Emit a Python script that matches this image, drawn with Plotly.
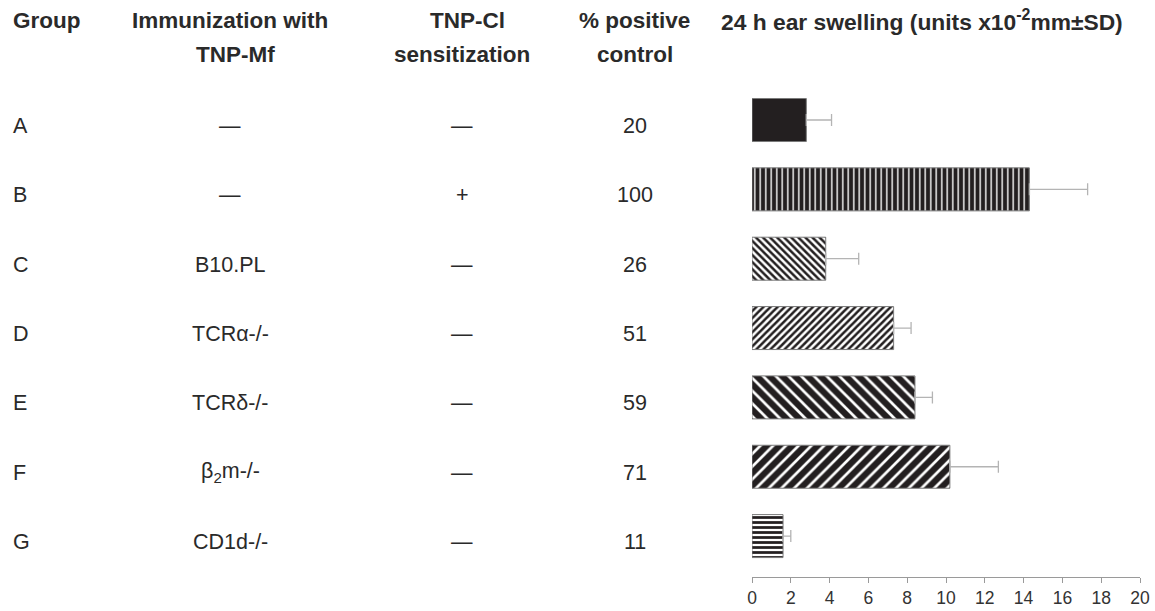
import plotly.graph_objects as go

groups = ["A", "B", "C", "D", "E", "F", "G"]
immunization = ["—", "—", "B10.PL", "TCRα-/-", "TCRδ-/-", "β<sub>2</sub>m-/-", "CD1d-/-"]
sensitization = ["—", "+", "—", "—", "—", "—", "—"]
pct_positive = [20, 100, 26, 51, 59, 71, 11]
swelling = [2.8, 14.3, 3.8, 7.3, 8.4, 10.2, 1.6]
swelling_sd = [1.3, 3.0, 1.7, 0.9, 0.9, 2.5, 0.4]
x_ticks = [0, 2, 4, 6, 8, 10, 12, 14, 16, 18, 20]

DARK = "#231f20"
# fill style per group: (shape, fg, bg, size, solidity)
styles = [
    ("", DARK, DARK, 6, 0.3),
    ("|", "white", DARK, 5.5, 0.25),
    ("\\", DARK, "white", 5, 0.5),
    ("/", DARK, "white", 5, 0.5),
    ("\\", "white", DARK, 9, 0.3),
    ("/", "white", DARK, 9, 0.3),
    ("-", DARK, "white", 5, 0.55),
]

# plot area in page pixels: x 752..1140, y 85..577
W, H = 1155, 611
L, T = 752, 85
R = W - 1140
B = H - 577
pw = W - L - R

def px(x):
    return (x - L) / pw

def ypaper(yp):
    return 1 - (yp - T) / (H - T - B)

FONT = "Liberation Sans, Arial, sans-serif"
TXT = "#2a2a2a"

fig = go.Figure()
for g, v, sd, (shp, fg, bg, sz, so) in zip(groups, swelling, swelling_sd, styles):
    marker = dict(color=bg, line=dict(color="#7a7a7a", width=1))
    if shp:
        marker["pattern"] = dict(shape=shp, fgcolor=fg, bgcolor=bg, size=sz,
                                 solidity=so, fillmode="replace")
    fig.add_trace(go.Bar(
        y=[g], x=[v], orientation="h", width=0.62, marker=marker,
        error_x=dict(type="data", array=[sd], arrayminus=[0], symmetric=False,
                     color="#b4b4b4", thickness=1.3, width=6),
        showlegend=False, name=g,
    ))

ann = []
def add(text, x, y, yref="paper", xanchor="center", size=21.5, bold=False, yshift=0):
    ann.append(dict(text=f"<b>{text}</b>" if bold else text, x=px(x), y=y, xref="paper",
                    yref=yref, xanchor=xanchor, yanchor="middle", showarrow=False,
                    yshift=yshift, font=dict(family=FONT, size=size, color=TXT)))

HS = 22.5
add("Group", 11, ypaper(20), xanchor="left", bold=True, size=HS)
add("Immunization with", 230, ypaper(20), bold=True, size=HS)
add("TNP-Mf", 235, ypaper(55), bold=True, size=HS)
add("TNP-Cl", 467, ypaper(20), bold=True, size=HS)
add("sensitization", 462, ypaper(55), bold=True, size=HS)
add("% positive", 634, ypaper(20), bold=True, size=HS)
add("control", 635, ypaper(55), bold=True, size=HS)
ann.append(dict(text="<b>24 h ear swelling (units x10<sup>-2</sup>mm±SD)</b>", x=px(719), y=ypaper(21),
                xref="paper", yref="paper", xanchor="left", yanchor="middle", showarrow=False,
                font=dict(family=FONT, size=22.8, color=TXT)))

for g, im, se, pc in zip(groups, immunization, sensitization, pct_positive):
    add(g, 11, g, yref="y", xanchor="left", yshift=-6)
    add(im, 230, g, yref="y", yshift=-6)
    add(se, 462, g, yref="y", yshift=-6)
    add(str(pc), 635, g, yref="y", yshift=-6)

fig.update_layout(
    width=W, height=H, autosize=False, margin=dict(l=L, r=R, t=T, b=B, pad=0),
    paper_bgcolor="white", plot_bgcolor="white",
    annotations=ann, barmode="overlay",
    xaxis=dict(range=[0, 20], tickvals=x_ticks, showgrid=False, zeroline=False,
               automargin=False,
               showline=True, linecolor="#9a9a9a", linewidth=1, ticks="outside",
               tickcolor="#9a9a9a", ticklen=5, ticklabelstandoff=0,
               tickfont=dict(family=FONT, size=17.5, color="#333")),
    yaxis=dict(categoryorder="array", categoryarray=groups, range=[6.59, -0.505],
               automargin=False,
               showticklabels=False, showgrid=False, zeroline=False, showline=False, ticks=""),
)
fig.write_html("out.html",
               config={"responsive": False, "displayModeBar": False},
               post_script="document.body.style.margin='0px';document.body.style.overflow='hidden';")
